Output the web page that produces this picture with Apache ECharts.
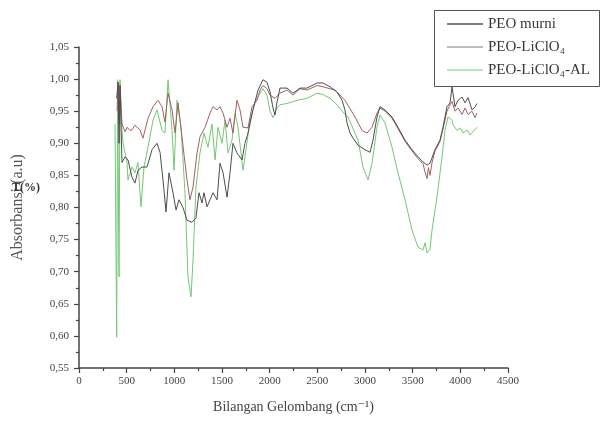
<!DOCTYPE html>
<html>
<head>
<meta charset="utf-8">
<script src="https://cdn.jsdelivr.net/npm/echarts@6/dist/echarts.min.js"></script>
<style>html,body{margin:0;padding:0;background:#fff}#c{width:604px;height:422px}</style>
</head>
<body>
<div id="c"></div>
<script>
// ---- data ----
const seriesNames = ['PEO murni', 'PEO-LiClO\u2084', 'PEO-LiClO\u2084-AL'];
const xTicks = [0, 500, 1000, 1500, 2000, 2500, 3000, 3500, 4000, 4500];
const yTicks = [0.55, 0.60, 0.65, 0.70, 0.75, 0.80, 0.85, 0.90, 0.95, 1.00, 1.05];

const peoMurniWave = [395,410,420,430,451,483,514,556,587,619,661,713,766,818,850,881,913,944,986,1018,1049,1091,1133,1185,1227,1259,1290,1311,1343,1374,1406,1448,1479,1511,1553,1584,1615,1657,1710,1741,1773,1825,1878,1930,1972,2004,2035,2056,2077,2108,2182,2245,2318,2392,2497,2560,2633,2706,2759,2790,2811,2843,2874,2927,3000,3053,3084,3126,3157,3210,3283,3346,3420,3493,3556,3609,3651,3682,3734,3787,3818,3860,3892,3913,3944,3976,4018,4049,4081,4123,4154,4175];
const peoMurniAbs = [0.97,0.995,0.90,0.99,0.87,0.879,0.874,0.847,0.838,0.858,0.863,0.863,0.890,0.900,0.886,0.843,0.793,0.854,0.823,0.796,0.812,0.800,0.780,0.777,0.784,0.823,0.807,0.823,0.801,0.812,0.823,0.812,0.869,0.854,0.816,0.854,0.900,0.885,0.874,0.900,0.916,0.952,0.983,0.999,0.995,0.980,0.955,0.944,0.964,0.986,0.986,0.978,0.986,0.986,0.994,0.994,0.988,0.980,0.967,0.952,0.932,0.916,0.908,0.897,0.890,0.886,0.905,0.941,0.957,0.952,0.941,0.925,0.905,0.890,0.879,0.871,0.866,0.869,0.890,0.905,0.925,0.957,0.963,0.988,0.957,0.967,0.972,0.963,0.971,0.952,0.957,0.962];

const peoLiWave = [399,410,420,430,451,483,504,535,556,587,640,671,724,776,829,871,902,934,976,1007,1039,1080,1133,1164,1196,1238,1269,1322,1374,1406,1448,1479,1511,1553,1584,1615,1657,1689,1720,1773,1815,1867,1899,1930,1972,2004,2056,2108,2182,2245,2318,2392,2497,2560,2633,2685,2790,2895,2969,3021,3074,3126,3157,3210,3283,3346,3420,3493,3556,3609,3630,3651,3665,3682,3703,3734,3787,3818,3860,3892,3913,3944,3976,4018,4049,4081,4123,4154,4175];
const peoLiAbs = [0.95,0.995,0.93,0.99,0.93,0.918,0.925,0.920,0.921,0.928,0.921,0.908,0.939,0.957,0.967,0.957,0.933,0.978,0.952,0.916,0.963,0.910,0.843,0.812,0.832,0.885,0.910,0.925,0.947,0.957,0.952,0.957,0.947,0.925,0.939,0.916,0.967,0.952,0.925,0.924,0.957,0.967,0.983,0.990,0.985,0.975,0.970,0.978,0.983,0.975,0.985,0.983,0.990,0.988,0.985,0.983,0.967,0.941,0.920,0.916,0.925,0.947,0.955,0.950,0.939,0.923,0.903,0.888,0.876,0.868,0.855,0.845,0.862,0.850,0.870,0.888,0.903,0.922,0.950,0.960,0.965,0.950,0.955,0.945,0.955,0.945,0.950,0.940,0.947];

const peoLiAlWave = [378,395,405,420,430,451,462,504,514,556,587,619,650,682,724,776,818,871,902,934,976,997,1028,1070,1112,1143,1175,1196,1227,1269,1311,1353,1395,1427,1458,1500,1532,1563,1605,1636,1668,1720,1752,1794,1846,1899,1930,1972,2004,2035,2077,2108,2182,2245,2318,2392,2497,2560,2633,2706,2790,2822,2927,2979,3032,3074,3126,3157,3210,3283,3346,3420,3493,3556,3609,3630,3651,3682,3703,3755,3808,3839,3871,3913,3923,3965,3997,4028,4070,4102,4133,4175];
const peoLiAlAbs = [0.93,0.598,0.999,0.692,0.999,0.92,0.900,0.870,0.843,0.863,0.854,0.870,0.801,0.863,0.894,0.936,0.952,0.920,0.916,0.999,0.920,0.858,0.967,0.925,0.823,0.692,0.661,0.718,0.832,0.885,0.916,0.894,0.930,0.874,0.925,0.900,0.936,0.885,0.905,0.947,0.925,0.858,0.890,0.936,0.963,0.978,0.985,0.975,0.950,0.940,0.955,0.960,0.962,0.965,0.968,0.970,0.978,0.976,0.970,0.960,0.945,0.941,0.905,0.863,0.843,0.869,0.925,0.944,0.932,0.894,0.854,0.812,0.765,0.738,0.734,0.745,0.729,0.735,0.765,0.816,0.879,0.920,0.941,0.936,0.929,0.920,0.924,0.916,0.921,0.913,0.918,0.925];

// ---- chart ----
function pairs(xs, ys) { return xs.map((x, i) => [x, ys[i]]); }
const serif = "'Liberation Serif', 'DejaVu Serif', serif";
const chart = echarts.init(document.getElementById('c'), null, { renderer: 'canvas' });
chart.setOption({
  animation: false,
  backgroundColor: '#fff',
  grid: { left: 79, top: 47, right: 96, bottom: 54 },
  legend: {
    orient: 'vertical', left: 447, top: 15, itemWidth: 36, itemHeight: 1.5, itemGap: 5,
    padding: 0, icon: 'rect',
    textStyle: { fontFamily: serif, fontSize: 15, color: '#383838', lineHeight: 18 },
    data: seriesNames
  },
  graphic: [
    { type: 'rect', shape: { x: 434.5, y: 10.5, width: 165, height: 76 }, style: { fill: 'none', stroke: '#555', lineWidth: 1 }, z: 10 },
    { type: 'text', left: 12, top: 182, style: { text: 'T(%)', font: "bold 12px 'Liberation Serif', serif", fill: '#333' }, z: 10 }
  ],
  xAxis: {
    type: 'value', min: xTicks[0], max: xTicks[xTicks.length - 1], interval: 500,
    name: 'Bilangan Gelombang (cm\u207B\u00B9)', nameLocation: 'middle', nameGap: 32,
    nameTextStyle: { fontFamily: serif, fontSize: 14, color: '#444' },
    axisLine: { show: true, lineStyle: { color: '#444', width: 1.5 } },
    axisTick: { show: true, inside: false, length: 5, lineStyle: { color: '#444', width: 1.2 } },
    minorTick: { show: true, splitNumber: 2, length: 3, lineStyle: { color: '#444', width: 1.2 } },
    axisLabel: { fontFamily: serif, fontSize: 11, color: '#444', margin: 8, formatter: v => String(v) },
    splitLine: { show: false }
  },
  yAxis: {
    type: 'value', min: yTicks[0], max: yTicks[yTicks.length - 1], interval: 0.05,
    name: 'Absorbansi (a.u)', nameLocation: 'middle', nameGap: 53, nameRotate: 90,
    nameTextStyle: { fontFamily: serif, fontSize: 16, color: '#555' },
    axisLine: { show: true, lineStyle: { color: '#444', width: 1.5 } },
    axisTick: { show: true, inside: false, length: 5, lineStyle: { color: '#444', width: 1.2 } },
    minorTick: { show: true, splitNumber: 2, length: 3, lineStyle: { color: '#444', width: 1.2 } },
    axisLabel: { fontFamily: serif, fontSize: 11, color: '#444', margin: 10,
      formatter: v => v.toFixed(2).replace('.', ',') },
    splitLine: { show: false }
  },
  series: [
    { name: seriesNames[0], type: 'line', data: pairs(peoMurniWave, peoMurniAbs), symbol: 'none', z: 4,
      lineStyle: { color: '#4d4d4d', width: 1 }, itemStyle: { color: '#555555' } },
    { name: seriesNames[1], type: 'line', data: pairs(peoLiWave, peoLiAbs), symbol: 'none', z: 3,
      lineStyle: { color: '#a06262', width: 1 }, itemStyle: { color: '#a8a8a8' } },
    { name: seriesNames[2], type: 'line', data: pairs(peoLiAlWave, peoLiAlAbs), symbol: 'none', z: 2,
      lineStyle: { color: '#74c874', width: 1 }, itemStyle: { color: '#a5dca5' } }
  ]
});
</script>
</body>
</html>
